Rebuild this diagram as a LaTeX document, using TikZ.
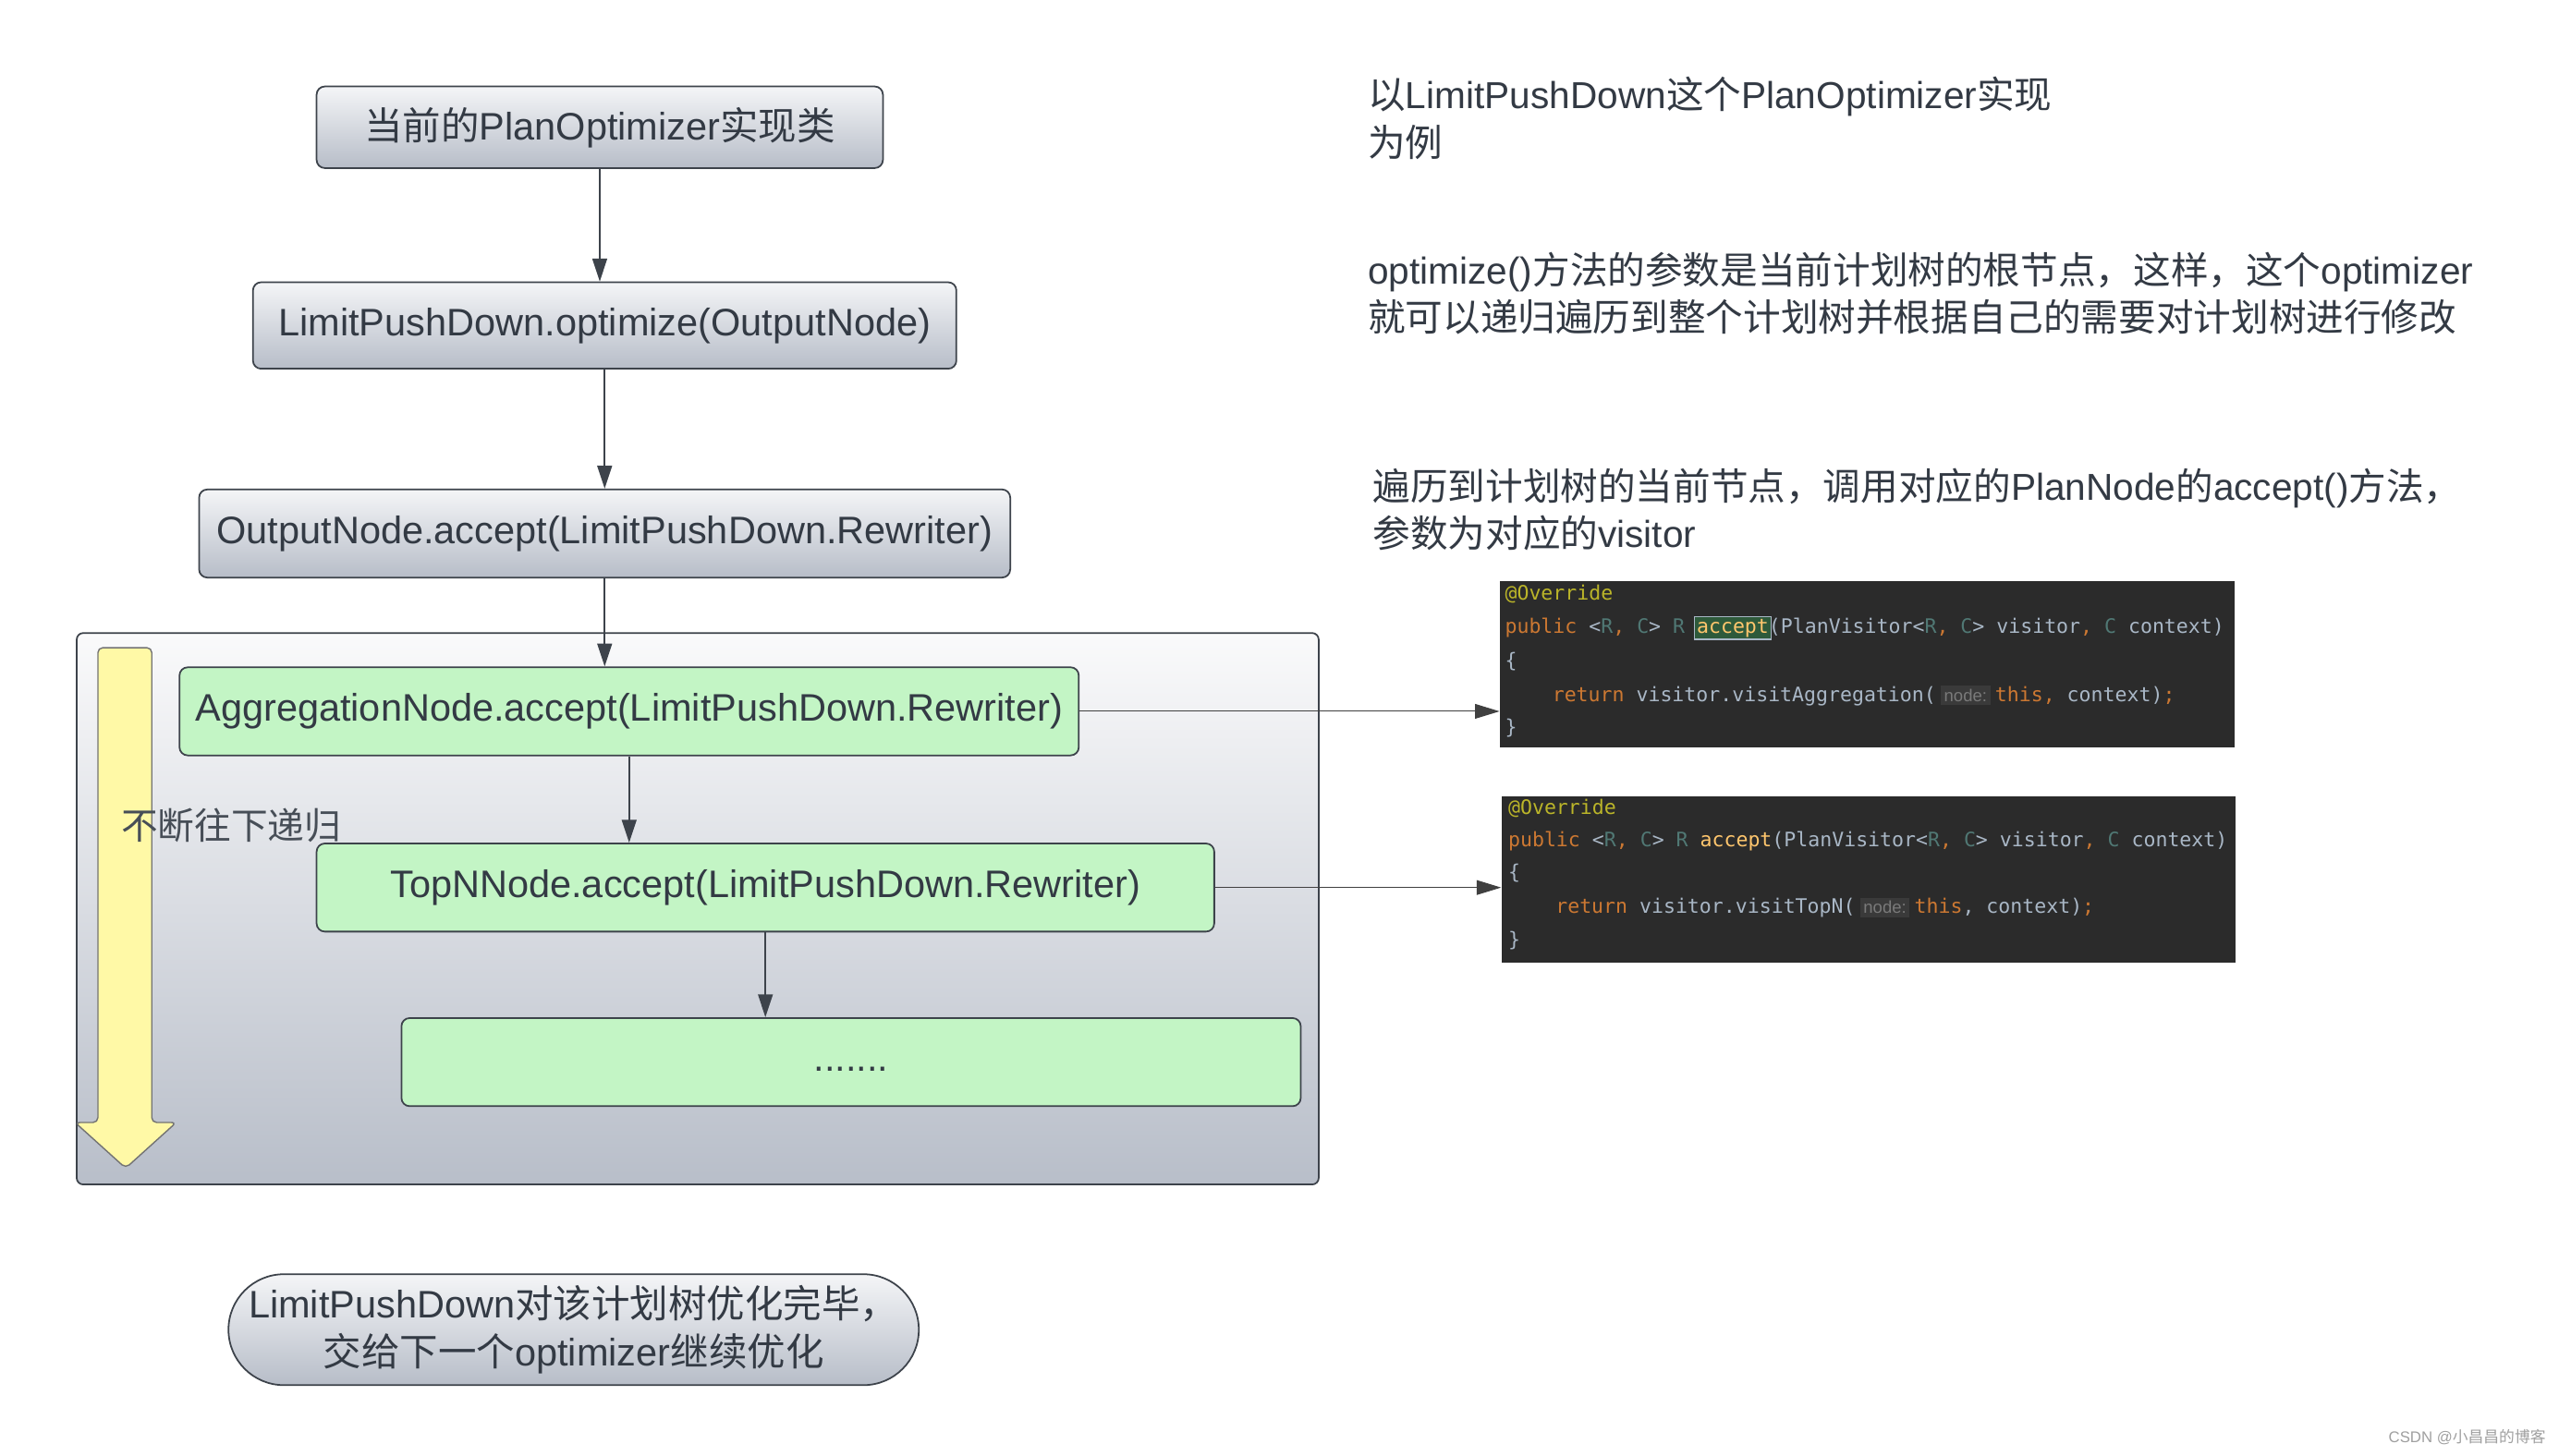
\documentclass[tikz,border=0pt]{standalone}
\usepackage{fontspec}
\setmainfont{Liberation Sans}
\newfontfamily\cj{Noto Sans CJK SC}
\newfontfamily\mono{DejaVu Sans Mono}
\usetikzlibrary{arrows.meta}
\newcommand\zh[1]{{\cj #1}}
\newcommand\bigfont{\fontsize{23.5}{29}\selectfont}
\newcommand\notefont{\fontsize{23}{29}\selectfont}
\definecolor{edgec}{HTML}{3D434B}
\definecolor{gtop}{HTML}{F4F5F7}
\definecolor{gbot}{HTML}{B7BDC8}
\definecolor{ctop}{HTML}{FAFAFB}
\definecolor{cbot}{HTML}{B8BEC9}
\definecolor{greenc}{HTML}{C3F5C5}
\definecolor{txtc}{HTML}{333A44}
\definecolor{yelc}{HTML}{FFF9A6}
\definecolor{codebg}{HTML}{2B2B2B}
\definecolor{codefg}{HTML}{A9B7C6}
\definecolor{kwc}{HTML}{CC7832}
\definecolor{annc}{HTML}{BBB529}
\definecolor{tpc}{HTML}{507874}
\definecolor{fnc}{HTML}{FFC66D}
\definecolor{hlbg}{HTML}{2E5A3B}
\definecolor{hlb}{HTML}{A9B7C6}
\definecolor{hintbg}{HTML}{3A3A3A}
\definecolor{hintfg}{HTML}{7A7A7A}
\definecolor{wmc}{HTML}{A0A0A0}
\newcommand\kw[1]{\textcolor{kwc}{#1}}
\newcommand\tp[1]{\textcolor{tpc}{#1}}
\newcommand\fn[1]{\textcolor{fnc}{#1}}
\newcommand\hlword[1]{{\setlength\fboxsep{1pt}\setlength\fboxrule{0.7pt}\makebox[0pt][l]{\hspace{-1.7pt}\fcolorbox{hlb}{hlbg}{\phantom{#1}}}\fn{#1}}}
\newcommand\hint{{\setlength\fboxsep{2pt}\hspace{3pt}\colorbox{hintbg}{\rmfamily\fontsize{10.5}{12}\selectfont\textcolor{hintfg}{node:}}\hspace{3pt}}}
\begin{document}
\begin{tikzpicture}[x=1pt,y=-1pt,
  gbox/.style={draw=edgec, line width=1pt, rounded corners=5pt, top color=gtop, bottom color=gbot, text=txtc, font=\bigfont, inner sep=0pt, align=center},
  grbox/.style={draw=edgec, line width=1pt, rounded corners=5pt, fill=greenc, text=txtc, font=\bigfont, inner sep=0pt},
  flow/.style={draw=edgec, line width=1pt, -{Triangle[length=14pt,width=9pt]}},
  link/.style={draw=black!75, line width=0.6pt, -{Triangle[length=15pt,width=9pt]}},
  codebox/.style={fill=codebg, draw=none, inner sep=0pt},
  codeline/.style={anchor=west, inner sep=0pt, font=\mono\fontsize{12.2}{14}\selectfont, text=codefg, text height=9pt, text depth=3pt},
  note/.style={anchor=west, align=left, inner sep=0pt, font=\notefont, text=txtc}]
\useasboundingbox[fill=white] (0,0) rectangle (1568,892);

% top boxes
\node[gbox, minimum width=347pt, minimum height=50pt] (b1) at (367.5,78) {\zh{当前的}PlanOptimizer\zh{实现类}};
\node[gbox, minimum width=431pt, minimum height=53pt] (b2) at (370.5,199.5) {LimitPushDown.optimize(OutputNode)};
\node[gbox, minimum width=497pt, minimum height=54pt] (b3) at (370.5,327) {OutputNode.accept(LimitPushDown.Rewriter)};

% container
\node[draw=edgec, line width=1pt, rounded corners=4pt, top color=ctop, bottom color=cbot, minimum width=761pt, minimum height=338pt, inner sep=0pt] (cont) at (427.5,557) {};

% yellow arrow
\filldraw[fill=yelc, draw=black!55, line width=0.8pt, rounded corners=3pt]
  (60,688) -- (60,397) -- (93,397) -- (93,688) -- (108,688) -- (77,716) -- (46,688) -- cycle;

% green boxes
\node[grbox, minimum width=551pt, minimum height=54pt] (agg) at (385.5,436) {AggregationNode.accept(LimitPushDown.Rewriter)};
\node[grbox, minimum width=550pt, minimum height=54pt] (topn) at (469,544) {TopNNode.accept(LimitPushDown.Rewriter)};
\node[grbox, minimum width=551pt, minimum height=54pt] (dots) at (521.5,651) {\vphantom{Ap}.......};

\node[anchor=west, inner sep=0pt, font=\fontsize{22.5}{26}\selectfont, text=txtc!90] (rec) at (74,506) {\zh{不断往下递归}};

% flow arrows
\draw[flow] (b1.south) -- (b1.south |- b2.north);
\draw[flow] (b2.south) -- (b2.south |- b3.north);
\draw[flow] (b3.south) -- (b3.south |- agg.north);
\draw[flow] (agg.south) -- (agg.south |- topn.north);
\draw[flow] (topn.south) -- (topn.south |- dots.north);

% code boxes
\node[codebox, minimum width=450pt, minimum height=102pt] (c1) at (1144,407) {};
\node[codebox, minimum width=450pt, minimum height=102pt] (c2) at (1145,539) {};

\draw[link] (agg.east) -- (agg.east -| c1.west);
\draw[link] (topn.east) -- (topn.east -| c2.west);

% code 1
\node[codeline] (c1l1) at (922,365) {\textcolor{annc}{@Override}};
\node[codeline] (c1l2) at (922,385) {\kw{public} <\tp{R}\kw{,} \tp{C}> \tp{R} \hlword{accept}(PlanVisitor<\tp{R}\kw{,} \tp{C}> visitor\kw{,} \tp{C} context)};
\node[codeline] (c1l3) at (922,406) {\{};
\node[codeline] (c1l4) at (951,427) {\kw{return} visitor.visitAggregation(\hint\kw{this,} context)\kw{;}};
\node[codeline] (c1l5) at (922,447) {\}};

% code 2
\node[codeline] (c2l1) at (924,496) {\textcolor{annc}{@Override}};
\node[codeline] (c2l2) at (924,516) {\kw{public} <\tp{R}\kw{,} \tp{C}> \tp{R} \fn{accept}(PlanVisitor<\tp{R}\kw{,} \tp{C}> visitor\kw{,} \tp{C} context)};
\node[codeline] (c2l3) at (924,536) {\{};
\node[codeline] (c2l4) at (953,557) {\kw{return} visitor.visitTopN(\hint\kw{this}, context)\kw{;}};
\node[codeline] (c2l5) at (924,577) {\}};

% terminator
\node[gbox, rounded corners=34pt, minimum width=423pt, minimum height=68pt] (term) at (351.5,815) {LimitPushDown\zh{对该计划树优化完毕，}\\\zh{交给下一个}optimizer\zh{继续优化}};

% notes
\node[note] (n1) at (838,72.5) {\zh{以}LimitPushDown\zh{这个}PlanOptimizer\zh{实现}\\\zh{为例}};
\node[note] (n2) at (838,180) {optimize()\zh{方法的参数是当前计划树的根节点，这样，这个}optimizer\\\zh{就可以递归遍历到整个计划树并根据自己的需要对计划树进行修改}};
\node[note] (n3) at (841,312.5) {\zh{遍历到计划树的当前节点，调用对应的}PlanNode\zh{的}accept()\zh{方法，}\\\zh{参数为对应的}visitor};

% watermark
\node[anchor=east, inner sep=0pt, font=\fontsize{9.5}{11}\selectfont, text=wmc] (wm) at (1560,881) {CSDN @\zh{小昌昌的博客}};
\end{tikzpicture}
\end{document}
